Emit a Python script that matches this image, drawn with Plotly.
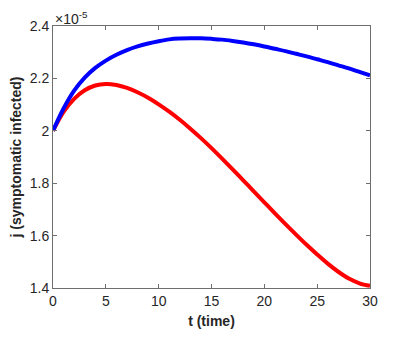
import plotly.graph_objects as go

t = list(range(0, 31))
j_blue = [2.0, 2.085, 2.153, 2.203, 2.24, 2.268, 2.29, 2.308, 2.322, 2.333, 2.342,
          2.349, 2.352, 2.353, 2.353, 2.351, 2.348, 2.343, 2.337, 2.330, 2.322,
          2.313, 2.304, 2.294, 2.284, 2.273, 2.262, 2.250, 2.238, 2.225, 2.212]
j_red = [2.0, 2.072, 2.122, 2.155, 2.173, 2.179, 2.175, 2.164, 2.147, 2.126, 2.101,
         2.073, 2.042, 2.008, 1.972, 1.934, 1.894, 1.853, 1.811, 1.769, 1.727,
         1.685, 1.644, 1.604, 1.565, 1.528, 1.493, 1.462, 1.436, 1.418, 1.408]
x_ticks = [0, 5, 10, 15, 20, 25, 30]
y_ticks = [1.4, 1.6, 1.8, 2.0, 2.2, 2.4]
y_tick_labels = ["1.4", "1.6", "1.8", "2", "2.2", "2.4"]

FONT = "Liberation Sans, Arial, sans-serif"
AX = "rgb(110,110,110)"
TXT = "#262626"

fig = go.Figure()
fig.add_trace(go.Scatter(x=t, y=j_red, mode="lines", line=dict(color="#ff0000", width=4, shape="spline"),
                         showlegend=False))
fig.add_trace(go.Scatter(x=t, y=j_blue, mode="lines", line=dict(color="#0000ff", width=4, shape="spline"),
                         showlegend=False))

axis_common = dict(showline=True, linecolor=AX, linewidth=1, mirror="ticks", ticks="inside",
                   ticklen=4, tickcolor=AX, showgrid=False, zeroline=False, automargin=False,
                   tickfont=dict(family=FONT, size=14, color=TXT))
fig.update_xaxes(range=[0, 30], tickvals=x_ticks, **axis_common,
                 title=dict(text="<b>t (time)</b>", font=dict(family=FONT, size=14, color=TXT), standoff=8))
fig.update_yaxes(range=[1.4, 2.4], tickvals=y_ticks, ticktext=y_tick_labels, **axis_common,
                 title=dict(text="<b>j (symptomatic infected)</b>", font=dict(family=FONT, size=14, color=TXT), standoff=6))

fig.add_annotation(text="×10<sup>-5</sup>", xref="paper", yref="paper", x=0, y=1.0,
                   xanchor="left", yanchor="bottom", yshift=-3, showarrow=False,
                   font=dict(family=FONT, size=14, color=TXT))

fig.update_layout(width=401, height=346, margin=dict(l=45, r=39, t=18, b=66),
                  plot_bgcolor="white", paper_bgcolor="white")
fig.write_html("out.html")
